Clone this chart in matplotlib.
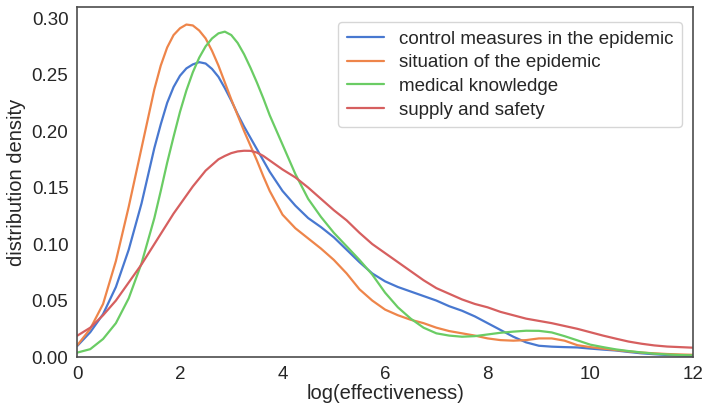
#curvas de densidade
import numpy as np
import matplotlib
matplotlib.use('Agg')
import matplotlib.pyplot as plt
import seaborn as sns

#eixo x (log da efetividade): passo 0.25, e 0.125 perto dos picos
x = np.concatenate([np.arange(0, 1.5, 0.25),
                    np.arange(1.5, 3.75, 0.125),
                    np.arange(3.75, 12.01, 0.25)])

labels = ['control measures in the epidemic', 'situation of the epidemic',
          'medical knowledge', 'supply and safety']

control = [0.010, 0.022, 0.038, 0.062, 0.095, 0.136,
           0.185, 0.206, 0.225, 0.239, 0.249, 0.2555, 0.259, 0.261, 0.2598,
           0.255, 0.248, 0.238, 0.227, 0.215, 0.204, 0.194, 0.184, 0.174,
           0.164, 0.147, 0.134, 0.123, 0.115,
           0.106, 0.095, 0.084, 0.074, 0.067, 0.062, 0.058, 0.054, 0.050, 0.045,
           0.041, 0.036, 0.030, 0.024, 0.018, 0.013, 0.010, 0.0092, 0.0088, 0.0085,
           0.0075, 0.0066, 0.0058, 0.0045, 0.0033, 0.0025, 0.0018, 0.0013, 0.001]

situation = [0.0106, 0.025, 0.047, 0.085, 0.133, 0.185,
             0.237, 0.258, 0.274, 0.285, 0.291, 0.2943, 0.2935, 0.289, 0.282,
             0.271, 0.258, 0.243, 0.228, 0.214, 0.200, 0.187, 0.174, 0.160,
             0.147, 0.126, 0.114, 0.105, 0.096,
             0.086, 0.074, 0.060, 0.050, 0.042, 0.037, 0.033, 0.030, 0.026, 0.023,
             0.021, 0.019, 0.0165, 0.015, 0.0145, 0.015, 0.0165, 0.0165, 0.0145, 0.0105,
             0.0088, 0.0075, 0.0062, 0.005, 0.004, 0.0033, 0.0027, 0.0023, 0.002]

medical = [0.004, 0.007, 0.016, 0.030, 0.052, 0.083,
           0.123, 0.147, 0.172, 0.195, 0.217, 0.236, 0.252, 0.265, 0.275,
           0.282, 0.2865, 0.288, 0.285, 0.278, 0.268, 0.256, 0.243, 0.229,
           0.214, 0.188, 0.162, 0.140, 0.124,
           0.110, 0.098, 0.086, 0.073, 0.057, 0.044, 0.034, 0.026, 0.021, 0.019,
           0.018, 0.0185, 0.020, 0.0215, 0.0225, 0.0233, 0.0232, 0.0218, 0.0185, 0.0148,
           0.011, 0.0088, 0.0068, 0.0053, 0.0041, 0.003, 0.0023, 0.0018, 0.0015]

supply = [0.019, 0.026, 0.037, 0.050, 0.066, 0.082,
          0.100, 0.109, 0.118, 0.127, 0.135, 0.143, 0.151, 0.158, 0.165,
          0.170, 0.175, 0.178, 0.1805, 0.182, 0.1826, 0.1825, 0.181, 0.178,
          0.174, 0.166, 0.159, 0.150, 0.140,
          0.130, 0.121, 0.110, 0.100, 0.092, 0.084, 0.076, 0.068, 0.061, 0.056,
          0.051, 0.047, 0.044, 0.040, 0.037, 0.034, 0.032, 0.030, 0.0275, 0.025,
          0.022, 0.019, 0.0163, 0.0137, 0.0118, 0.0103, 0.0093, 0.0088, 0.0083]

sns.set_style('white')
plt.rcParams['font.family'] = ['Liberation Sans', 'DejaVu Sans']
cores = sns.color_palette('muted')

fig = plt.figure(figsize=(7.04, 4.09), dpi=100)
ax = fig.add_axes([0.110, 0.127, 0.874, 0.855])

for serie, lab, c in zip([control, situation, medical, supply], labels, cores):
    ax.plot(x, serie, color=c, lw=1.6, label=lab, solid_joinstyle='round')

ax.set_xlim(0, 12)
ax.set_ylim(0, 0.3095)
ax.set_yticks([0, 0.05, 0.10, 0.15, 0.20, 0.25, 0.30])
ax.set_yticklabels(['0.00', '0.05', '0.10', '0.15', '0.20', '0.25', '0.30'])
ax.tick_params(labelsize=13.5, pad=3)
ax.set_xlabel('log(effectiveness)', fontsize=14.5, labelpad=1)
ax.set_ylabel('distribution density', fontsize=14.5, labelpad=4)
for s in ax.spines.values():
    s.set_color('0.3')
    s.set_linewidth(1.2)

ax.legend(loc='upper right', fontsize=13.5, handlelength=2.0,
          borderpad=0.45, labelspacing=0.35, bbox_to_anchor=(0.998, 0.985))

plt.savefig('out.png', dpi=100)
